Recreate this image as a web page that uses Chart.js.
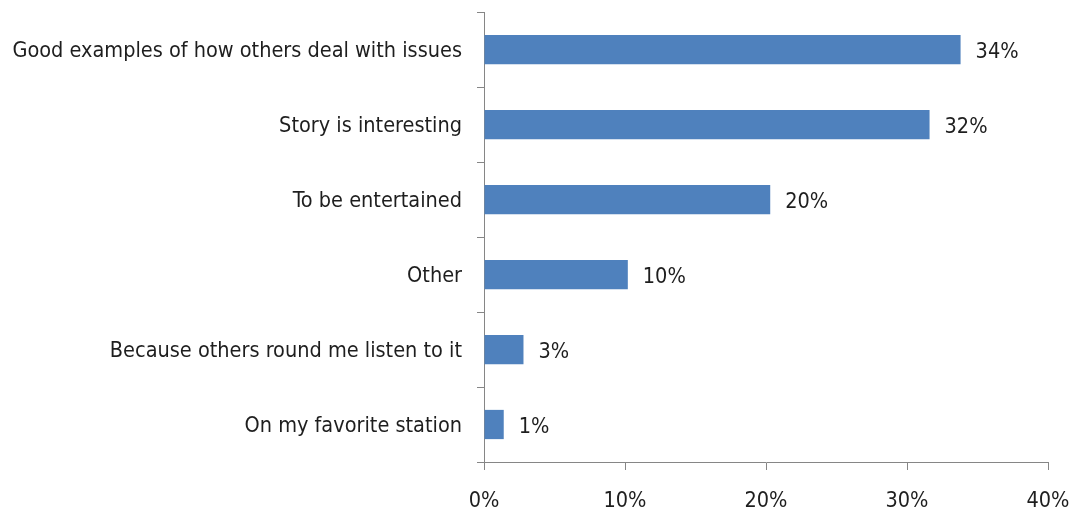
<!DOCTYPE html>
<html><head><meta charset="utf-8">
<script src="https://cdn.jsdelivr.net/npm/chart.js@4"></script>
<style>html,body{margin:0;padding:0;background:#fff;}#wrap{width:1079px;height:511px;}</style>
</head><body><div id="wrap"><canvas id="c" width="1079" height="511"></canvas></div>
<script>
const categories = ["Good examples of how others deal with issues","Story is interesting","To be entertained","Other","Because others round me listen to it","On my favorite station"];
const values = [33.8, 31.6, 20.3, 10.2, 2.8, 1.4];
const xTicks = [0, 10, 20, 30, 40];
const FONT = "'Liberation Sans Narrow', 'DejaVu Sans Condensed', 'Roboto Condensed', sans-serif";

const labelPlugin = {
  id: 'vlabels',
  afterDatasetsDraw(chart) {
    const ctx = chart.ctx;
    const meta = chart.getDatasetMeta(0);
    ctx.save();
    ctx.font = "21.5px " + FONT;
    ctx.fillStyle = "#1e1e1e";
    ctx.textBaseline = "middle";
    ctx.textAlign = "left";
    meta.data.forEach((bar, i) => {
      ctx.fillText(Math.round(values[i]) + "%", bar.x + 15, bar.y + 3);
    });
    ctx.restore();
  }
};

function noPad(s) { s.paddingTop = 0; s.paddingBottom = 0; s.paddingLeft = 0; s.paddingRight = 0; }

new Chart(document.getElementById('c'), {
  type: 'bar',
  data: { labels: categories, datasets: [{ data: values, backgroundColor: '#4F81BD', borderColor: '#4F81BD', borderWidth: 0, categoryPercentage: 1, barPercentage: 0.39 }] },
  options: {
    indexAxis: 'y', responsive: false, animation: false,
    layout: { padding: { top: 12, right: 31, bottom: 0, left: 0 } },
    plugins: { legend: { display: false }, tooltip: { enabled: false } },
    scales: {
      x: {
        min: 0, max: 40,
        afterBuildTicks(s) { s.ticks = xTicks.map(v => ({ value: v })); },
        afterFit(s) { s.height = 49; noPad(s); },
        grid: { drawOnChartArea: false, color: '#868686', tickLength: 8, tickColor: '#868686' },
        border: { color: '#868686', width: 1 },
        ticks: { padding: 19, color: '#1e1e1e', font: { family: FONT, size: 21.5 }, callback: v => v + '%' }
      },
      y: {
        afterFit(s) { s.width = 484; noPad(s); },
        grid: { offset: true, drawOnChartArea: false, color: '#868686', tickLength: 7 },
        border: { color: '#868686', width: 1 },
        ticks: { padding: 15, labelOffset: 2, color: '#1e1e1e', font: { family: FONT, size: 21.5 } }
      }
    }
  },
  plugins: [labelPlugin]
});
</script></body></html>
